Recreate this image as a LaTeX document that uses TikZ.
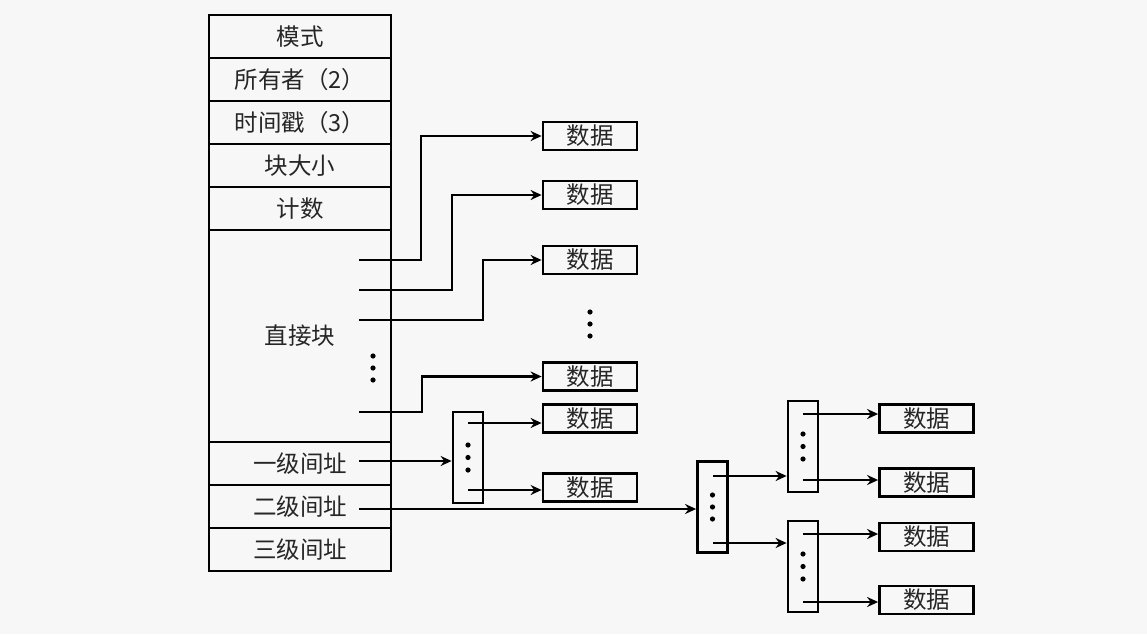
\documentclass[tikz,border=0pt]{standalone}
\usepackage{fontspec}
\newfontfamily\cjk{Noto Sans CJK SC}
\usetikzlibrary{arrows.meta}
\definecolor{paper}{RGB}{247,247,247}
\begin{document}
\begin{tikzpicture}[x=1pt, y=-1pt, font=\cjk\fontsize{23.5}{25}\selectfont, >={Stealth[length=11pt, width=10pt]}]
\tikzstyle{field}=[draw, line width=2.8pt, text=black!85, minimum width=182pt, minimum height=43pt, inner sep=0pt]
\tikzstyle{datum}=[draw, line width=2.8pt, text=black!85, minimum width=94pt, minimum height=28pt, inner sep=0pt]
\tikzstyle{ptrblk}=[draw, line width=2.8pt, minimum width=30pt, minimum height=91pt, inner sep=0pt]
\tikzstyle{link}=[line width=2.6pt, ->]
\fill[paper] (0,0) rectangle (1147,634);

% i-node
\node[field] (mode) at (300,36.5) {模式};
\node[field] (owner) at (300,79.5) {所有者（2）};
\node[field] (stamp) at (300,122.5) {时间戳（3）};
\node[field] (bsize) at (300,165.5) {块大小};
\node[field] (count) at (300,208.5) {计数};
\node[field, minimum height=212pt] (direct) at (300,336) {直接块};
\node[field] (single) at (300,463.5) {一级间址};
\node[field] (double) at (300,506.5) {二级间址};
\node[field] (triple) at (300,549.5) {三级间址};
\fill (373,356) circle (2.6pt) (373,368) circle (2.6pt) (373,380) circle (2.6pt);

% direct blocks
\node[datum] (d1) at (590,136) {数据};
\node[datum] (d2) at (590,195) {数据};
\node[datum] (d3) at (590,260) {数据};
\node[datum] (d4) at (590,376.5) {数据};
\fill (590,312) circle (2.6pt) (590,324) circle (2.6pt) (590,336) circle (2.6pt);
\coordinate (q1) at (359,260); \coordinate (q2) at (359,290);
\coordinate (q3) at (359,320); \coordinate (q4) at (359,412);
\draw[link] (q1) -- ++(62,0) |- (d1);
\draw[link] (q2) -- ++(93,0) |- (d2);
\draw[link] (q3) -- ++(124,0) |- (d3);
\draw[link] (q4) -- ++(63,0) |- (d4);

% single indirect
\node[ptrblk] (ind1) at (468,457.5) {};
\fill (468,445) circle (2.6pt) (468,457.5) circle (2.6pt) (468,470) circle (2.6pt);
\node[datum] (s1) at (590,418.5) {数据};
\node[datum] (s2) at (590,487.5) {数据};
\coordinate (e1) at (359,461);
\draw[link] (e1) -- (e1 -| ind1.west);
\coordinate (ia) at (468,423); \coordinate (ib) at (468,490);
\draw[link] (ia) -- (ia -| s1.west);
\draw[link] (ib) -- (ib -| s2.west);

% double indirect
\node[ptrblk] (ind2) at (712.5,507) {};
\fill (712.5,495) circle (2.6pt) (712.5,507) circle (2.6pt) (712.5,519) circle (2.6pt);
\coordinate (e2) at (359,509);
\draw[link] (e2) -- (e2 -| ind2.west);
\node[ptrblk] (ind2a) at (803,446.5) {};
\node[ptrblk] (ind2b) at (803,566.5) {};
\fill (803,434) circle (2.6pt) (803,446.5) circle (2.6pt) (803,459) circle (2.6pt);
\fill (803,554) circle (2.6pt) (803,566.5) circle (2.6pt) (803,579) circle (2.6pt);
\coordinate (ja) at (713,476); \coordinate (jb) at (713,543);
\draw[link] (ja) -- (ja -| ind2a.west);
\draw[link] (jb) -- (jb -| ind2b.west);
\node[datum] (r1) at (926.5,418.5) {数据};
\node[datum] (r2) at (926.5,482.5) {数据};
\node[datum] (r3) at (926.5,537) {数据};
\node[datum] (r4) at (926.5,600) {数据};
\coordinate (ka) at (803,414); \coordinate (kb) at (803,480);
\coordinate (la) at (803,534); \coordinate (lb) at (803,602);
\draw[link] (ka) -- (ka -| r1.west);
\draw[link] (kb) -- (kb -| r2.west);
\draw[link] (la) -- (la -| r3.west);
\draw[link] (lb) -- (lb -| r4.west);
\end{tikzpicture}
\end{document}
